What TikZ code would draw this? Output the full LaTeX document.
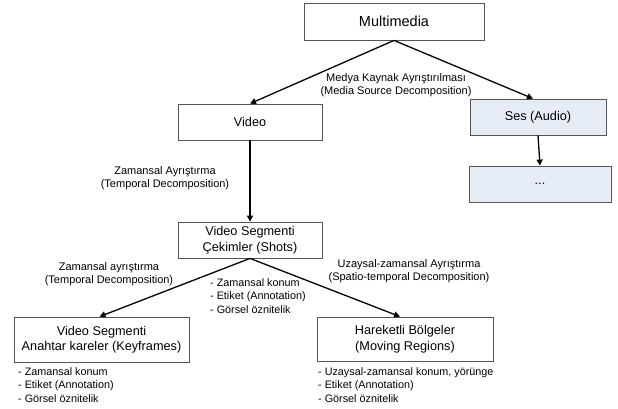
\documentclass[tikz,border=0pt]{standalone}
\usepackage{fontspec}
\setmainfont{Liberation Sans}
\usepackage{tikz}
\usetikzlibrary{arrows.meta}

\definecolor{boxline}{RGB}{85,85,85}
\definecolor{audiofill}{RGB}{230,236,246}

\begin{document}
\begin{tikzpicture}[x=1pt, y=-1pt,
    box/.style={draw=boxline, line width=0.8pt, fill=white, align=center,
                inner sep=0pt, font=\fontsize{12.7}{15.5}\selectfont},
    bluebox/.style={box, fill=audiofill},
    link/.style={line width=1.3pt, -{Triangle[length=6pt, width=6pt]}},
    lbl/.style={align=center, inner sep=0pt, font=\fontsize{11}{13}\selectfont},
    lst/.style={align=left, anchor=west, inner sep=0pt, font=\fontsize{10.8}{13.5}\selectfont}]

  \useasboundingbox (0, 0) rectangle (618, 408);

  \pgfmathsetmacro{\bw}{144}
  \pgfmathsetmacro{\bh}{36}

  % boxes
  \node[box, minimum width=180, minimum height=37, font=\fontsize{14.5}{17}\selectfont]
       (multimedia) at (394, 21.5) {Multimedia};
  \node[box, minimum width=\bw, minimum height=\bh] (video) at (250, 122) {Video};
  \node[bluebox, minimum width=136, minimum height=\bh] (audio) at (538, 117) {Ses (Audio)};
  \node[bluebox, minimum width=142, minimum height=\bh] (more) at (540, 184) {...};
  \node[box, minimum width=\bw, minimum height=\bh] (shots) at (250, 240)
       {Video Segmenti\\Çekimler (Shots)};
  \node[box, minimum width=175, minimum height=45] (keyframes) at (101.5, 339.5)
       {Video Segmenti\\Anahtar kareler (Keyframes)};
  \node[box, minimum width=176, minimum height=44] (regions) at (405, 339)
       {Hareketli Bölgeler\\(Moving Regions)};

  % connectors
  \draw[link] (multimedia.south) -- (video.north);
  \draw[link] (multimedia.south) -- ([xshift=-5pt]audio.north);
  \draw[link] (audio.south) -- (more.north);
  \draw[link] (video.south) -- (shots.north);
  \draw[link] (shots.south) -- ([xshift=-2pt]keyframes.north);
  \draw[link] (shots.south) -- ([xshift=-5pt]regions.north);

  % labels
  \node[lbl] (mediasrc) at (396, 85) {Medya Kaynak Ayrıştırılması\\(Media Source Decomposition)};
  \node[lbl] (temporal) at (165, 178) {Zamansal Ayrıştırma\\(Temporal Decomposition)};
  \node[lbl] (temporalkf) at (109, 274) {Zamansal ayrıştırma\\(Temporal Decomposition)};
  \node[lbl] (spatio) at (409, 271) {Uzaysal-zamansal Ayrıştırma\\(Spatio-temporal Decomposition)};

  % attribute lists
  \node[lst] (shotattr) at (210, 296) {- Zamansal konum\\- Etiket (Annotation)\\- Görsel öznitelik};
  \node[lst] (kfattr) at (18, 385) {- Zamansal konum\\- Etiket (Annotation)\\- Görsel öznitelik};
  \node[lst] (regattr) at (318, 385) {- Uzaysal-zamansal konum, yörünge\\- Etiket (Annotation)\\- Görsel öznitelik};

\end{tikzpicture}
\end{document}
